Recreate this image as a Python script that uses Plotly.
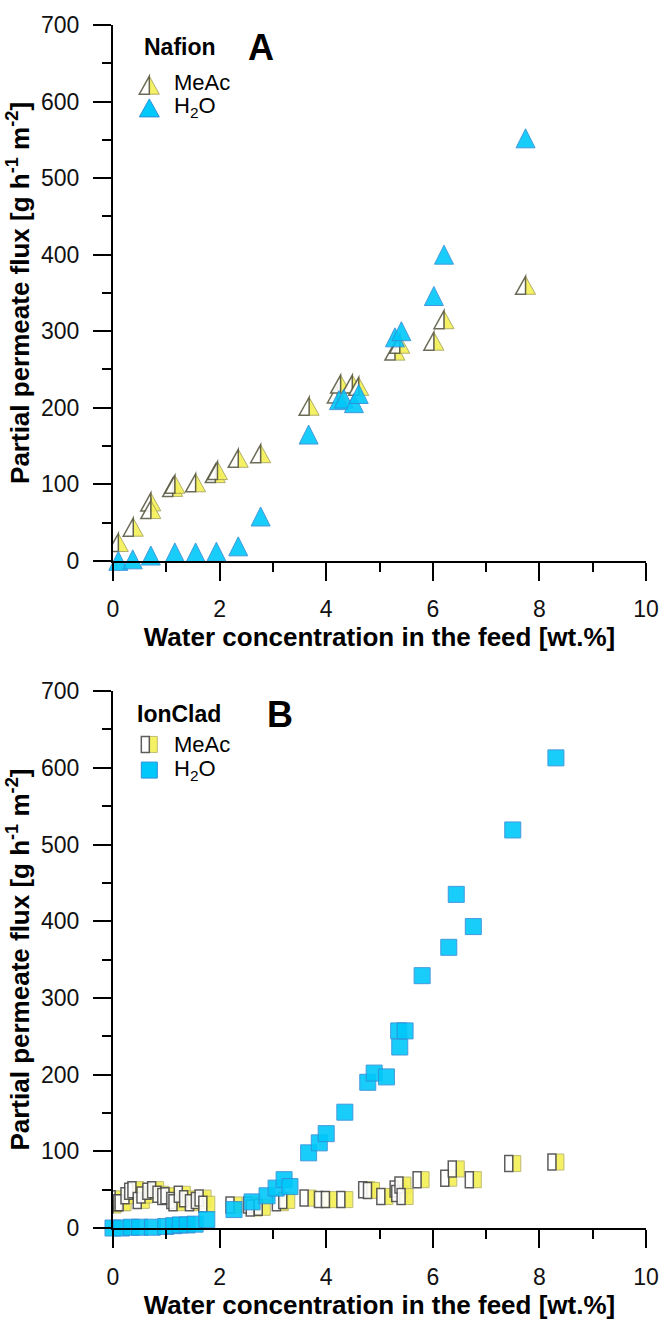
import plotly.graph_objects as go

# ---- data ----
# (A) Nafion
nafion_meac_x = [0.10, 0.38, 0.71, 0.71, 1.12, 1.16, 1.55, 1.92, 1.96, 2.35, 2.77,
                 3.68, 4.21, 4.27, 4.49, 4.61, 5.29, 5.38, 6.02, 6.21, 7.74]
nafion_meac_y = [24, 44, 77, 67, 96, 100, 102, 114, 118, 134, 140,
                 202, 218, 231, 231, 228, 274, 283, 287, 315, 360]
nafion_h2o_x = [0.10, 0.37, 0.71, 1.16, 1.55, 1.94, 2.35, 2.77, 3.67,
                4.24, 4.33, 4.52, 4.61, 5.29, 5.41, 6.02, 6.21, 7.74]
nafion_h2o_y = [0, 2, 7, 11, 11, 12, 19, 58, 165,
                210, 212, 206, 218, 292, 300, 346, 400, 552]

# (B) IonClad
ionclad_meac_x = [0.00, 0.04, 0.16, 0.19, 0.30, 0.37, 0.43, 0.53, 0.60, 0.71, 0.80,
                  0.90, 0.99, 1.05, 1.16, 1.20, 1.30, 1.40, 1.51, 1.62, 1.69, 1.76,
                  2.27, 2.60, 2.65, 2.80, 3.14, 3.26, 3.66, 3.93, 4.06, 4.35, 4.76,
                  4.85, 5.10, 5.35, 5.38, 5.44, 5.48, 5.78, 6.30, 6.44, 6.76, 7.50, 8.31]
ionclad_meac_y = [30, 38, 33, 33, 42, 48, 50, 36, 43, 48, 50,
                  44, 41, 42, 36, 33, 44, 38, 33, 36, 39, 31,
                  30, 30, 26, 27, 33, 36, 39, 37, 37, 37, 50,
                  49, 41, 51, 45, 56, 41, 63, 65, 77, 63, 84, 86]
ionclad_h2o_x = [0.00, 0.16, 0.34, 0.50, 0.74, 0.99, 1.14, 1.26, 1.39, 1.54, 1.76,
                 2.27, 2.61, 2.89, 3.06, 3.21, 3.32, 3.67, 3.87, 4.00, 4.35, 4.78,
                 4.90, 5.13, 5.36, 5.38, 5.48, 5.80, 6.30, 6.44, 6.76, 7.50, 8.31]
ionclad_h2o_y = [0, 0, 1, 1, 1, 2, 3, 4, 4, 5, 11,
                 24, 34, 42, 52, 63, 54, 98, 111, 123, 151, 190,
                 202, 197, 257, 236, 257, 329, 366, 435, 393, 519, 613]

x_ticks = [0, 2, 4, 6, 8, 10]
y_ticks = [0, 100, 200, 300, 400, 500, 600, 700]

# ---- style ----
FONT = "Liberation Sans, Arial, sans-serif"
BLUE = "#00C8FA"
BLUE_EDGE = "#2F8FD8"
YELLOW = "#F5F055"
TRI_EDGE = "#5C5C45"
TRI_EDGE_R = "#A9A55C"
SQ_EDGE = "#4D4D4D"
SQ_EDGE_R = "#B8B565"
TRI_W, TRI_H = 20, 18
TRI_SIZE = 19
SQ_SIZE = 16

W, H = 671, 1324
M_L, M_R, M_T, M_B = 113, 15, 22, 83


def px_x(px):
    return (px - M_L) / (W - M_L - M_R)


def px_y(py):
    return (H - M_B - py) / (H - M_T - M_B)


def split_marker(kind, xa, ya, xref, yref, layer="below"):
    """Half white / half yellow marker as two pixel-sized paths anchored at (xa, ya)."""
    if kind == "triangle":
        w, h = TRI_W / 2, TRI_H / 2
        left = f"M0,{h} L{-w},{-h} L0,{-h} Z"
        right = f"M0,{h} L{w},{-h} L0,{-h} Z"
        edge, edge_r = TRI_EDGE, TRI_EDGE_R
    else:
        h = SQ_SIZE / 2
        left = f"M{-h},{-h} H0 V{h} H{-h} Z"
        right = f"M0,{-h} H{h} V{h} H0 Z"
        edge, edge_r = SQ_EDGE, SQ_EDGE_R
    common = dict(type="path", xref=xref, yref=yref, xsizemode="pixel",
                  ysizemode="pixel", xanchor=xa, yanchor=ya, layer=layer, opacity=0.9)
    return [dict(path=right, fillcolor=YELLOW, line=dict(color=edge_r, width=1), **common),
            dict(path=left, fillcolor="white", line=dict(color=edge, width=1.5), **common)]


fig = go.Figure()
shapes = []

# (A) Nafion
for xv, yv in zip(nafion_meac_x, nafion_meac_y):
    shapes += split_marker("triangle", xv, yv, "x", "y")

fig.add_trace(go.Scatter(
    x=nafion_h2o_x, y=nafion_h2o_y, mode="markers", name="H2O", cliponaxis=False,
    marker=dict(symbol="arrow-down", angle=180, standoff=TRI_SIZE / 2, size=TRI_SIZE,
                color=BLUE, opacity=0.9, line=dict(color=BLUE_EDGE, width=1)),
    xaxis="x", yaxis="y"))

# (B) IonClad
for xv, yv in zip(ionclad_meac_x, ionclad_meac_y):
    shapes += split_marker("square", xv, yv, "x2", "y2")

fig.add_trace(go.Scatter(
    x=ionclad_h2o_x, y=ionclad_h2o_y, mode="markers", name="H2O", cliponaxis=False,
    marker=dict(symbol="square", size=SQ_SIZE, color=BLUE, opacity=0.9,
                line=dict(color=BLUE_EDGE, width=1)),
    xaxis="x2", yaxis="y2"))

# ---- legends (drawn by hand, like the original) ----
shapes += split_marker("triangle", px_x(150), px_y(83), "paper", "paper", layer="above")
shapes.append(dict(type="path", xref="paper", yref="paper", xsizemode="pixel", ysizemode="pixel",
                   xanchor=px_x(150), yanchor=px_y(106), layer="above",
                   path=f"M0,{TRI_H/2} L{-TRI_W/2},{-TRI_H/2} L{TRI_W/2},{-TRI_H/2} Z",
                   fillcolor=BLUE, line=dict(color=BLUE_EDGE, width=1)))
shapes += split_marker("square", px_x(150), px_y(751), "paper", "paper", layer="above")
h = SQ_SIZE / 2
shapes.append(dict(type="path", xref="paper", yref="paper", xsizemode="pixel", ysizemode="pixel",
                   xanchor=px_x(150), yanchor=px_y(777), layer="above",
                   path=f"M{-h},{-h} H{h} V{h} H{-h} Z", fillcolor=BLUE,
                   line=dict(color=BLUE_EDGE, width=1)))

annotations = []


def label(text, px, py, size, bold=False, anchor="left"):
    annotations.append(dict(
        text=f"<b>{text}</b>" if bold else text, x=px_x(px), y=px_y(py),
        xref="paper", yref="paper", xanchor=anchor, yanchor="middle", showarrow=False,
        font=dict(family=FONT, size=size, color="black")))


label("Nafion", 143, 44, 23, bold=True)
label("MeAc", 173, 80, 22)
label("H<sub>2</sub>O", 173, 105, 22)
label("A", 264, 45, 36, bold=True, anchor="center")
label("IonClad", 135, 720, 23, bold=True)
label("MeAc", 173, 751, 22)
label("H<sub>2</sub>O", 173, 777, 22)
label("B", 283, 721, 36, bold=True, anchor="center")

axis_common = dict(
    showline=True, linecolor="black", linewidth=2, showgrid=False, zeroline=False,
    ticks="outside", ticklen=18, tickwidth=2, tickcolor="black",
    tickfont=dict(family=FONT, size=23, color="#111"), ticklabelstandoff=9,
)
x_title = dict(text="Water concentration in the feed [wt.%]",
               font=dict(family=FONT, size=26, color="black", weight="bold"), standoff=4)
y_title = dict(text="Partial permeate flux [g h<sup>-1</sup> m<sup>-2</sup>]",
               font=dict(family=FONT, size=26, color="black", weight="bold"), standoff=4)

xaxis = dict(range=[0, 10], tickvals=x_ticks, title=x_title,
             minor=dict(dtick=1, ticks="outside", ticklen=9, tickwidth=2, tickcolor="black"),
             **axis_common)
yaxis = dict(range=[0, 700], tickvals=y_ticks, title=y_title,
             minor=dict(dtick=50, ticks="outside", ticklen=9, tickwidth=2, tickcolor="black"),
             **axis_common)

fig.update_layout(
    width=W, height=H,
    margin=dict(l=M_L, r=M_R, t=M_T, b=M_B),
    paper_bgcolor="white", plot_bgcolor="white",
    showlegend=False,
    xaxis=dict(anchor="y", domain=[0, 1], **xaxis),
    yaxis=dict(anchor="x", domain=[px_y(565), 1], **yaxis),
    xaxis2=dict(anchor="y2", domain=[0, 1], **xaxis),
    yaxis2=dict(anchor="x2", domain=[0, px_y(697)], **yaxis),
    shapes=shapes,
    annotations=annotations,
)

# the page's default body margin would shift the plot by 8 px
fig.write_html("out.html", config={"displayModeBar": False},
               post_script="document.body.style.margin='0';")
